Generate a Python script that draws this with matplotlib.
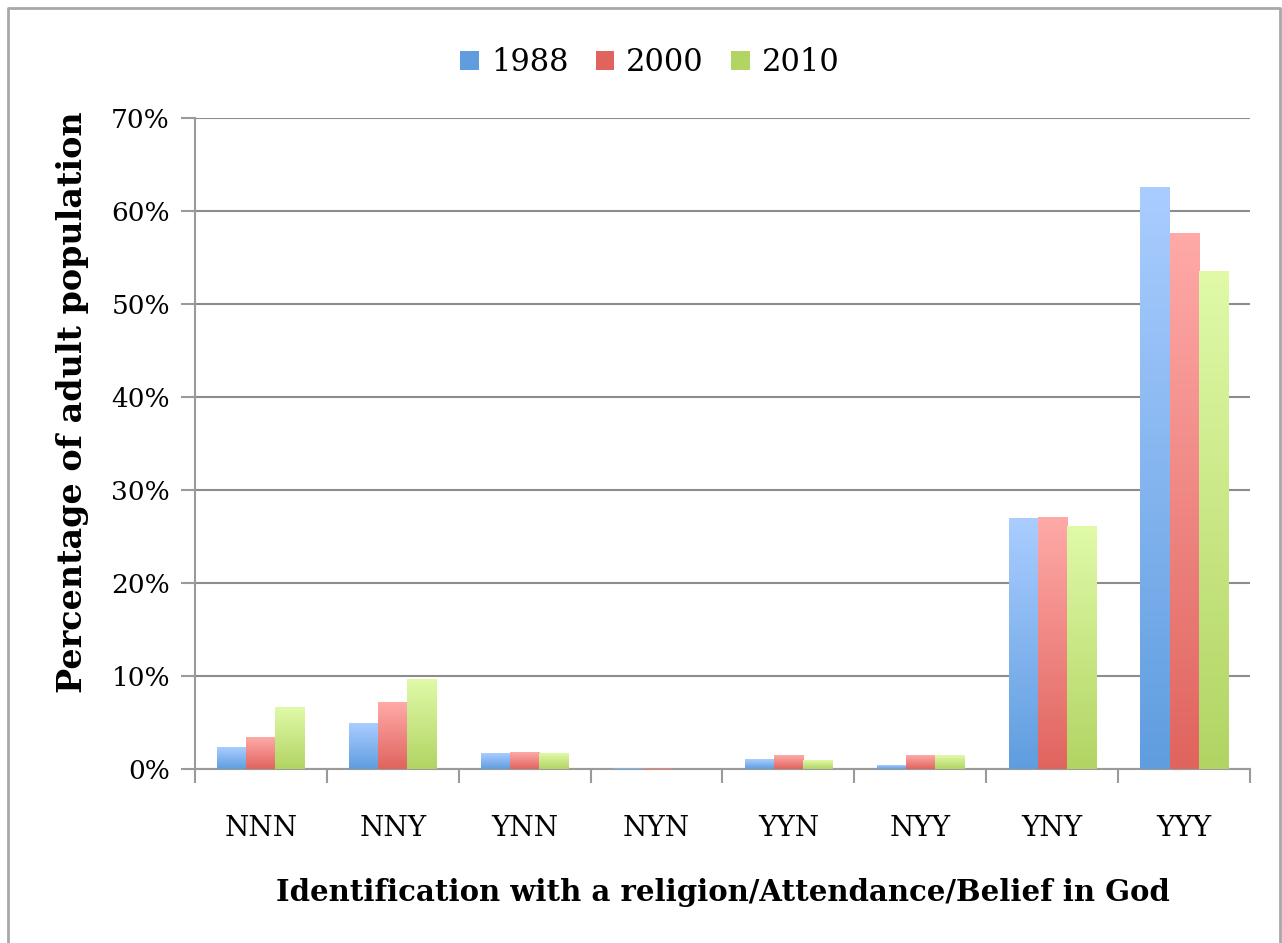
import numpy as np
import matplotlib.pyplot as plt
from matplotlib.colors import LinearSegmentedColormap
from matplotlib.lines import Line2D

categories = ["NNN", "NNY", "YNN", "NYN", "YYN", "NYY", "YNY", "YYY"]
years = ["1988", "2000", "2010"]
values_1988 = [2.3, 4.9, 1.7, 0.1, 1.0, 0.4, 26.9, 62.5]
values_2000 = [3.4, 7.2, 1.8, 0.1, 1.5, 1.4, 27.0, 57.6]
values_2010 = [6.6, 9.6, 1.7, 0.0, 0.9, 1.4, 26.1, 53.5]

# (top colour, bottom colour) per series
gradients = [("#aacdff", "#5f9ddf"), ("#ffaaa8", "#e0645e"), ("#e0faa8", "#b2d463")]

plt.rcParams['font.family'] = ['DejaVu Serif']

fig = plt.figure(figsize=(12.82, 9.43), dpi=100)
ax = fig.add_axes([0.1521, 0.1845, 0.8229, 0.6904])

barWidth = 0.22
series = [values_1988, values_2000, values_2010]
grad = np.linspace(1, 0, 256).reshape(-1, 1)
for j, vals in enumerate(series):
    cmap = LinearSegmentedColormap.from_list("g%d" % j, [gradients[j][1], gradients[j][0]])
    for i, v in enumerate(vals):
        x0 = i + 0.5 + (j - 1.5) * barWidth
        if v <= 0:
            continue
        ax.imshow(grad, cmap=cmap, extent=(x0, x0 + barWidth, 0, v),
                  aspect='auto', zorder=3, interpolation='bicubic', vmin=0, vmax=1)
    ax.bar([0], [0], color=gradients[j][1], label=years[j])

ax.set_xlim(0, len(categories))
ax.set_ylim(0, 70)
ax.set_yticks(range(0, 71, 10))
ax.set_yticklabels(["%d%%" % t for t in range(0, 71, 10)], fontsize=19)
ax.set_xticks(np.arange(0, len(categories) + 1))
ax.set_xticklabels([])
ax.set_xticks(np.arange(len(categories)) + 0.5, minor=True)
ax.set_xticklabels(categories, minor=True, fontsize=20)
ax.tick_params(axis='x', which='minor', length=0, pad=33)
ax.tick_params(axis='x', which='major', length=10, color='#9a9a9a', width=1.5)
ax.tick_params(axis='y', length=10, color='#9a9a9a', width=1.5, pad=8)
ax.grid(axis='y', color='#8c8c8c', linewidth=1.5, zorder=0)
ax.set_axisbelow(True)
for s in ['top', 'right']:
    ax.spines[s].set_visible(False)
ax.spines['left'].set_color('#9a9a9a')
ax.spines['bottom'].set_color('#9a9a9a')
ax.spines['left'].set_linewidth(1.5)
ax.spines['bottom'].set_linewidth(1.5)

ax.set_xlabel("Identification with a religion/Attendance/Belief in God",
              fontsize=21, fontweight='bold', labelpad=26)
ax.set_ylabel("Percentage of adult population", fontsize=24, fontweight='bold')
ax.yaxis.set_label_coords(-0.100, 0.564)

fig.legend(loc='upper center', bbox_to_anchor=(0.507, 0.979), ncol=3, frameon=False,
           fontsize=22, handlelength=0.6, handleheight=0.6, columnspacing=0.9, handletextpad=0.4)

# light grey frame around the chart (left, top, right)
frameX = [8 / 1282, 8 / 1282, 1280 / 1282, 1280 / 1282]
frameY = [0.0, 1 - 8 / 943, 1 - 8 / 943, 0.0]
fig.add_artist(Line2D(frameX, frameY, transform=fig.transFigure, color='#a8a8a8', linewidth=2))

plt.savefig("out.png", dpi=100)
